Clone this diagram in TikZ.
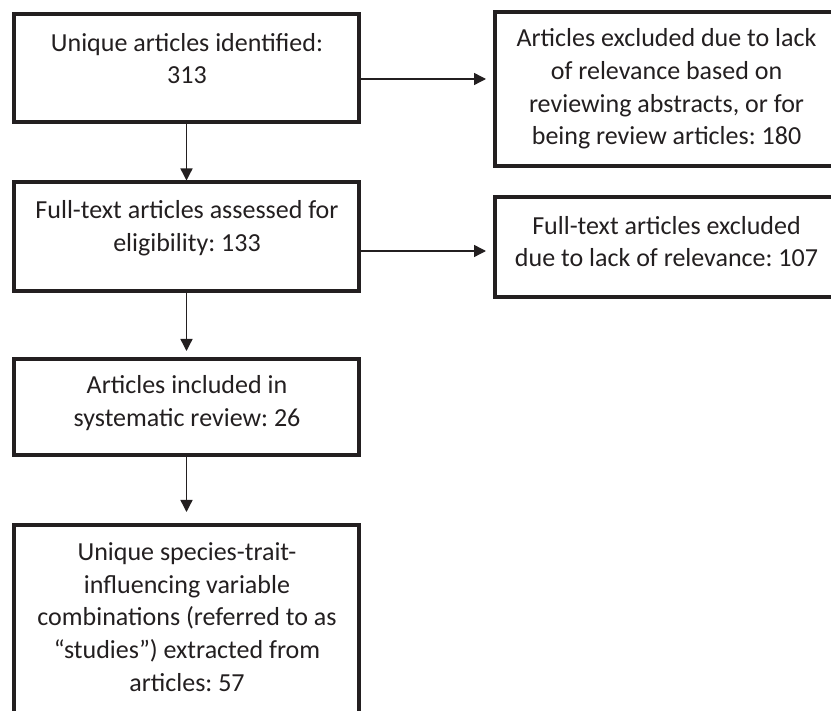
\documentclass[tikz,border=0pt]{standalone}
\usepackage{fontspec}
\setmainfont{Carlito}
\usetikzlibrary{arrows.meta}
\definecolor{ink}{HTML}{231F20}
\frenchspacing
\tikzset{
  box/.style={draw=ink, line width=4pt, rectangle, inner sep=0pt, outer sep=0pt},
  txt/.style={align=center, text=ink, inner sep=0pt, font=\fontsize{26}{32.6}\selectfont},
  arr/.style={draw=ink, line width=1.4pt, -{Triangle[length=12pt,width=12pt]}}
}
\begin{document}
\begin{tikzpicture}[x=1pt,y=-1pt]
\useasboundingbox[fill=white] (0,0) rectangle (831,711);
% boxes
\node[box, minimum width=345pt, minimum height=108pt]   (b1) at (186.5,68) {};
\node[box, minimum width=345pt, minimum height=109.5pt] (b2) at (186.5,236.75) {};
\node[box, minimum width=345pt, minimum height=96pt]    (b3) at (186.5,407) {};
\node[box, minimum width=345pt, minimum height=215pt]   (b4) at (186.5,632.5) {};
\node[box, minimum width=355pt, minimum height=154pt]   (r1) at (672.5,89) {};
\node[box, minimum width=355pt, minimum height=100pt]   (r2) at (672.5,247) {};
% texts
\node[txt] (t1) at (187,58.5) {Unique articles identified:\\313};
\node[txt] (t2) at (187,228.5) {Full-text articles assessed for\\eligibility: 133};
\node[txt] (t3) at (187,403) {Articles included in\\systematic review: 26};
\node[txt] (t4) at (187,617) {Unique species-trait-\\influencing variable\\combinations (referred to as\\“studies”) extracted from\\articles: 57};
\node[txt] (tr1) at (666.5,89) {Articles excluded due to lack\\of relevance based on\\reviewing abstracts, or for\\being review articles: 180};
\node[txt] (tr2) at (666.5,241.5) {Full-text articles excluded\\due to lack of relevance: 107};
% vertical arrows
\draw[arr, shorten >=1.5pt] (b1.south) -- (b2.north);
\draw[arr, shorten >=8pt] (b2.south) -- (b3.north);
\draw[arr, shorten >=13pt] (b3.south) -- (b4.north);
% horizontal arrows
\coordinate (h1) at ([yshift=-11pt]b1.east);
\coordinate (h2) at ([yshift=-14.25pt]b2.east);
\draw[arr, shorten >=9pt] (h1) -- (h1 -| r1.west);
\draw[arr, shorten >=9pt] (h2) -- (h2 -| r2.west);
\end{tikzpicture}
\end{document}
